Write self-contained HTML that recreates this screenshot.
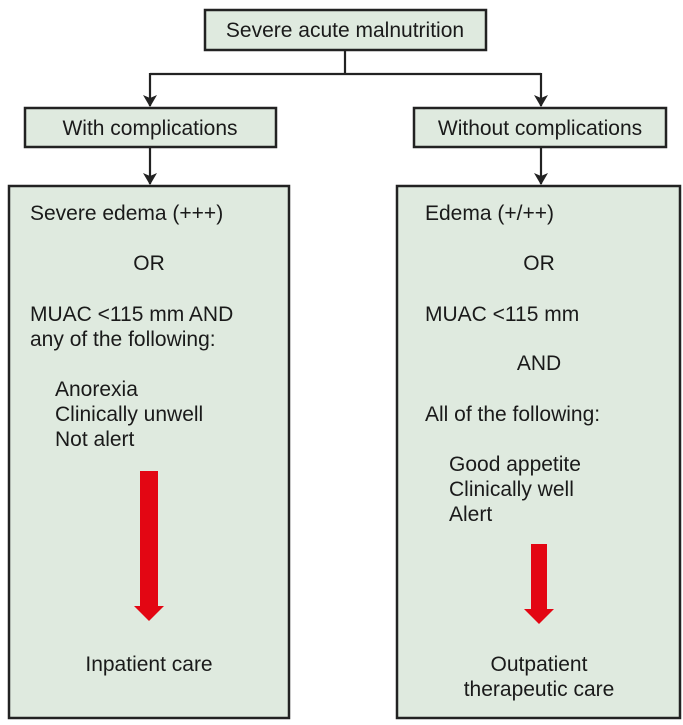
<!DOCTYPE html>
<html><head><meta charset="utf-8"><style>
html,body{margin:0;padding:0;background:#fff;}
svg{display:block;}
text{font-family:"Liberation Sans",Arial,sans-serif;font-size:21px;fill:#1a1a1a;}
</style></head><body>
<svg width="683" height="725" viewBox="0 0 683 725" xmlns="http://www.w3.org/2000/svg">
<defs>
<marker id="ah" markerWidth="12" markerHeight="14" refX="11" refY="7" orient="auto" markerUnits="userSpaceOnUse">
<path d="M0,0 L12,7 L0,14 L3,7 Z" fill="#222"/>
</marker>
</defs>
<g fill="#dfeadf" stroke="#222" stroke-width="2.5">
<rect x="205" y="10" width="281" height="40"/>
<rect x="25" y="108" width="251" height="39"/>
<rect x="414" y="108" width="252" height="39"/>
<rect x="9" y="186" width="280" height="532"/>
<rect x="397" y="186" width="283" height="532"/>
</g>
<g stroke="#222" stroke-width="2.2" fill="none">
<path d="M345,51 V74 M150,74 H541"/>
<path d="M150,73 V106" marker-end="url(#ah)"/>
<path d="M541,73 V106" marker-end="url(#ah)"/>
<path d="M150,148 V184" marker-end="url(#ah)"/>
<path d="M541,148 V184" marker-end="url(#ah)"/>
</g>
<text x="345" y="37" text-anchor="middle">Severe acute malnutrition</text>
<text x="150" y="135" text-anchor="middle">With complications</text>
<text x="540" y="135" text-anchor="middle">Without complications</text>

<text x="30" y="220">Severe edema (+++)</text>
<text x="149" y="270" text-anchor="middle">OR</text>
<text x="30" y="321">MUAC &lt;115 mm AND</text>
<text x="30" y="346">any of the following:</text>
<text x="55" y="396">Anorexia</text>
<text x="55" y="421">Clinically unwell</text>
<text x="55" y="446">Not alert</text>
<path d="M140,471 H158 V606 H164 L149,621 L134,606 H140 Z" fill="#e30613"/>
<text x="149" y="671" text-anchor="middle">Inpatient care</text>

<text x="425" y="220">Edema (+/++)</text>
<text x="539" y="270" text-anchor="middle">OR</text>
<text x="425" y="321">MUAC &lt;115 mm</text>
<text x="539" y="370" text-anchor="middle">AND</text>
<text x="425" y="421">All of the following:</text>
<text x="449" y="471">Good appetite</text>
<text x="449" y="496">Clinically well</text>
<text x="449" y="521">Alert</text>
<path d="M531,544 H547 V609 H554 L539,624 L524,609 H531 Z" fill="#e30613"/>
<text x="539" y="671" text-anchor="middle">Outpatient</text>
<text x="539" y="696" text-anchor="middle">therapeutic care</text>
</svg>
</body></html>
